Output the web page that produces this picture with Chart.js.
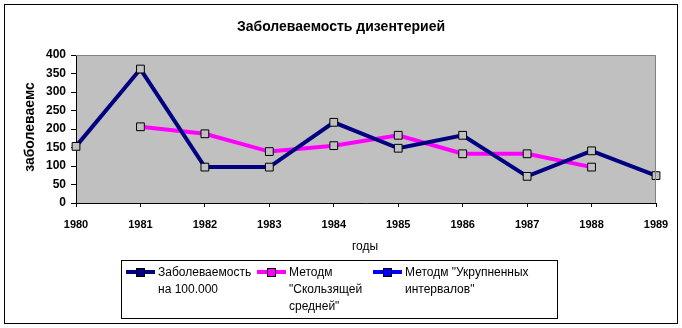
<!DOCTYPE html>
<html>
<head>
<meta charset="utf-8">
<script src="https://cdn.jsdelivr.net/npm/chart.js@4"></script>
<style>
  body { margin: 0; background: #fff; }
  #wrap { width: 682px; height: 328px; }
</style>
</head>
<body>
<div id="wrap"><canvas id="chart" width="682" height="328"></canvas></div>
<script>
const years = ['1980', '1981', '1982', '1983', '1984', '1985', '1986', '1987', '1988', '1989'];
const incidence = [153, 362, 97, 97, 218, 148, 183, 72, 141, 74];
const movingAverage = [null, 206, 187, 139, 155, 183, 133, 133, 97, null];
const enlargedIntervals = [null, null, null, null, null, null, null, null, null, null];
const seriesNames = [
  ['Заболеваемость', 'на 100.000'],
  ['Методм', '"Скользящей', 'средней"'],
  ['Методм "Укрупненных', 'интервалов"']
];
const yTicks = [0, 50, 100, 150, 200, 250, 300, 350, 400];

const FONT = '"Liberation Sans", Arial, sans-serif';

function series(data, color, name) {
  return {
    label: name.join(' '),
    data: data,
    borderColor: color,
    backgroundColor: color,
    borderWidth: 4,
    tension: 0,
    spanGaps: false,
    pointStyle: 'rect',
    pointRadius: 5.5,
    pointHoverRadius: 5.5,
    pointBorderWidth: 1,
    pointBorderColor: '#000',
    pointBackgroundColor: '#C0C0C0'
  };
}

// background, frame and extra texts
const decor = {
  id: 'decor',
  beforeDraw(chart) {
    const { ctx, chartArea: a } = chart;
    ctx.save();
    ctx.fillStyle = '#fff';
    ctx.fillRect(0, 0, chart.width, chart.height);
    ctx.fillStyle = '#C0C0C0';
    ctx.fillRect(a.left, a.top, a.right - a.left, a.bottom - a.top);
    ctx.restore();
  },
  afterDraw(chart) {
    const { ctx, chartArea: a } = chart;
    ctx.save();
    // plot frame top / right
    ctx.strokeStyle = '#808080';
    ctx.lineWidth = 1;
    ctx.beginPath();
    ctx.moveTo(a.left, a.top + 0.5);
    ctx.lineTo(a.right - 0.5, a.top + 0.5);
    ctx.lineTo(a.right - 0.5, a.bottom);
    ctx.stroke();

    // outer border
    ctx.strokeStyle = '#000';
    ctx.strokeRect(4.5, 4.5, 673, 319);

    ctx.fillStyle = '#000';
    ctx.textAlign = 'center';
    ctx.textBaseline = 'middle';
    ctx.font = 'bold 14px ' + FONT;
    ctx.fillText('Заболеваемость дизентерией', 341, 27);

    ctx.font = '12px ' + FONT;
    ctx.fillText('годы', 365, 247);

    ctx.save();
    ctx.translate(30, 127);
    ctx.rotate(-Math.PI / 2);
    ctx.font = 'bold 14px ' + FONT;
    ctx.fillText('заболеваемс', 0, 0);
    ctx.restore();

    // legend
    ctx.strokeStyle = '#000';
    ctx.strokeRect(121.5, 260.5, 436, 58);
    const items = [
      { x: 126, color: '#000080' },
      { x: 257, color: '#FF00FF' },
      { x: 373, color: '#0000FF' }
    ];
    ctx.textAlign = 'left';
    ctx.font = '12px ' + FONT;
    items.forEach((it, i) => {
      const ly = 272;
      ctx.fillStyle = it.color;
      ctx.fillRect(it.x, ly - 2, 29, 4);
      ctx.fillRect(it.x + 11, ly - 3, 7, 7);
      ctx.strokeStyle = '#000';
      ctx.strokeRect(it.x + 10.5, ly - 3.5, 8, 8);
      ctx.fillStyle = '#000';
      seriesNames[i].forEach((t, j) => ctx.fillText(t, it.x + 32, 273 + j * 17));
    });
    ctx.restore();
  }
};

new Chart(document.getElementById('chart'), {
  type: 'line',
  data: {
    labels: years,
    datasets: [
      series(incidence, '#000080', seriesNames[0]),
      series(movingAverage, '#FF00FF', seriesNames[1]),
      series(enlargedIntervals, '#0000FF', seriesNames[2])
    ]
  },
  options: {
    responsive: false,
    animation: false,
    events: [],
    layout: { padding: { left: 0, top: 55, right: 26, bottom: 0 } },
    plugins: {
      legend: { display: false },
      title: { display: false },
      tooltip: { enabled: false }
    },
    scales: {
      x: {
        type: 'category',
        offset: false,
        grid: { display: true, drawOnChartArea: false, drawTicks: true, tickLength: 4, color: '#000' },
        border: { display: true, color: '#000', width: 1 },
        ticks: {
          color: '#000',
          font: { family: FONT, size: 11, weight: 'bold' },
          maxRotation: 0,
          autoSkip: false,
          padding: 11
        },
        afterFit(scale) { scale.height = 125; }
      },
      y: {
        min: 0,
        max: 400,
        grid: { display: true, drawOnChartArea: false, drawTicks: true, tickLength: 5, color: '#000' },
        border: { display: true, color: '#000', width: 1 },
        afterBuildTicks(scale) { scale.ticks = yTicks.map(v => ({ value: v })); },
        ticks: {
          color: '#000',
          font: { family: FONT, size: 12, weight: 'bold' },
          padding: 5
        },
        afterFit(scale) { scale.width = 76; }
      }
    }
  },
  plugins: [decor]
});
</script>
</body>
</html>
